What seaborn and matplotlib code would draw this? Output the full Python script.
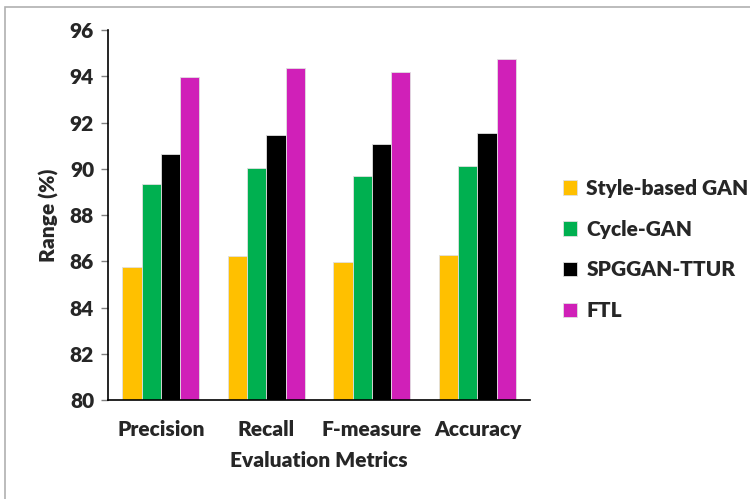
import pandas as pd
import seaborn as sns
import matplotlib.pyplot as plt
from matplotlib.patches import Rectangle

# values
metrics = ['Precision', 'Recall', 'F-measure', 'Accuracy']
models = ['Style-based GAN', 'Cycle-GAN', 'SPGGAN-TTUR', 'FTL']
style_gan = [85.74, 86.21, 85.98, 86.27]
cycle_gan = [89.35, 90.03, 89.70, 90.12]
spggan_ttur = [90.62, 91.46, 91.06, 91.53]
ftl = [93.98, 94.34, 94.17, 94.76]
yticks = [80, 82, 84, 86, 88, 90, 92, 94, 96]

colors = ['#FFC000', '#00B050', '#000000', '#D020B8']

df = pd.DataFrame({
    'metric': metrics * 4,
    'model': [m for m in models for _ in metrics],
    'value': style_gan + cycle_gan + spggan_ttur + ftl,
})

sns.set_style('white')
plt.rcParams['font.family'] = ['Lato', 'DejaVu Sans']
plt.rcParams['font.weight'] = 'heavy'
W = 'heavy'

fig = plt.figure(figsize=(7.5, 4.99), dpi=100)
ax = fig.add_axes([0.144, 0.198, 0.563, 0.742])

sns.barplot(data=df, x='metric', y='value', hue='model', order=metrics,
            hue_order=models, palette=colors, saturation=1, width=0.73, ax=ax,
            edgecolor='#e0e0e0', linewidth=0.6, legend=True)

ax.set_ylim(80, 96)
ax.set_xlim(-0.5, 3.5)
ax.set_yticks(yticks)
ax.set_yticklabels([str(t) for t in yticks], fontsize=15, fontweight=W)
ax.tick_params(axis='y', length=5, width=1, color='#808080', pad=5, left=True)
ax.tick_params(axis='x', length=0, pad=14, labelsize=15)
for lbl in ax.get_xticklabels():
    lbl.set_fontweight(W)
ax.set_xlabel('Evaluation Metrics', fontsize=15, fontweight=W, labelpad=9)
ax.set_ylabel('Range (%)', fontsize=15, fontweight=W, labelpad=8)

sns.despine(ax=ax)
ax.spines['left'].set_color('black')
ax.spines['bottom'].set_color('black')
ax.spines['left'].set_linewidth(1.2)
ax.spines['bottom'].set_linewidth(1.2)

handles, labels = ax.get_legend_handles_labels()
ax.legend_.remove()
fig.legend(handles, labels, loc='center left', bbox_to_anchor=(0.725, 0.5),
           frameon=False, prop={'weight': W, 'size': 15},
           handlelength=0.7, handleheight=0.7, handletextpad=0.45,
           labelspacing=1.05)

# thin grey frame around the picture
fig.patches.append(Rectangle((0.007, -0.01), 1.0, 0.995, transform=fig.transFigure,
                             fill=False, edgecolor='#b0b0b0', linewidth=1.2))

fig.savefig('out.png', dpi=100)
